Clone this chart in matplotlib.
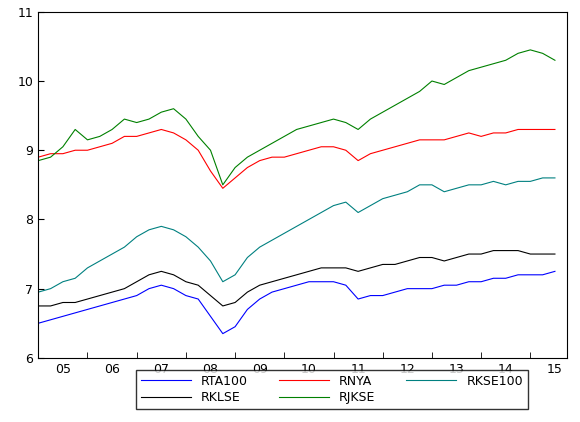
import numpy as np
import matplotlib
matplotlib.use("Agg")
import matplotlib.pyplot as plt

# quarterly readings, 2005Q1 .. 2015Q3
t = [2005 + 0.25 * i for i in range(43)]

rjkse = [8.85, 8.9, 9.05, 9.3, 9.15, 9.2, 9.3, 9.45, 9.4, 9.45, 9.55, 9.6,
         9.45, 9.2, 9.0, 8.5, 8.75, 8.9, 9.0, 9.1, 9.2, 9.3, 9.35, 9.4,
         9.45, 9.4, 9.3, 9.45, 9.55, 9.65, 9.75, 9.85, 10.0, 9.95, 10.05, 10.15,
         10.2, 10.25, 10.3, 10.4, 10.45, 10.4, 10.3]
rnya = [8.9, 8.95, 8.95, 9.0, 9.0, 9.05, 9.1, 9.2, 9.2, 9.25, 9.3, 9.25,
        9.15, 9.0, 8.7, 8.45, 8.6, 8.75, 8.85, 8.9, 8.9, 8.95, 9.0, 9.05,
        9.05, 9.0, 8.85, 8.95, 9.0, 9.05, 9.1, 9.15, 9.15, 9.15, 9.2, 9.25,
        9.2, 9.25, 9.25, 9.3, 9.3, 9.3, 9.3]
rkse100 = [6.95, 7.0, 7.1, 7.15, 7.3, 7.4, 7.5, 7.6, 7.75, 7.85, 7.9, 7.85,
           7.75, 7.6, 7.4, 7.1, 7.2, 7.45, 7.6, 7.7, 7.8, 7.9, 8.0, 8.1,
           8.2, 8.25, 8.1, 8.2, 8.3, 8.35, 8.4, 8.5, 8.5, 8.4, 8.45, 8.5,
           8.5, 8.55, 8.5, 8.55, 8.55, 8.6, 8.6]
rklse = [6.75, 6.75, 6.8, 6.8, 6.85, 6.9, 6.95, 7.0, 7.1, 7.2, 7.25, 7.2,
         7.1, 7.05, 6.9, 6.75, 6.8, 6.95, 7.05, 7.1, 7.15, 7.2, 7.25, 7.3,
         7.3, 7.3, 7.25, 7.3, 7.35, 7.35, 7.4, 7.45, 7.45, 7.4, 7.45, 7.5,
         7.5, 7.55, 7.55, 7.55, 7.5, 7.5, 7.5]
rta100 = [6.5, 6.55, 6.6, 6.65, 6.7, 6.75, 6.8, 6.85, 6.9, 7.0, 7.05, 7.0,
          6.9, 6.85, 6.6, 6.35, 6.45, 6.7, 6.85, 6.95, 7.0, 7.05, 7.1, 7.1,
          7.1, 7.05, 6.85, 6.9, 6.9, 6.95, 7.0, 7.0, 7.0, 7.05, 7.05, 7.1,
          7.1, 7.15, 7.15, 7.2, 7.2, 7.2, 7.25]

year_labels = ["05", "06", "07", "08", "09", "10", "11", "12", "13", "14", "15"]

fig = plt.figure(figsize=(5.8, 4.22), dpi=100)
ax = fig.add_axes([0.066, 0.152, 0.912, 0.82])

h_rta, = ax.plot(t, rta100, color="#0000ff", lw=0.8, label="RTA100")
h_rnya, = ax.plot(t, rnya, color="#ff0000", lw=0.8, label="RNYA")
h_kse, = ax.plot(t, rkse100, color="#008080", lw=0.8, label="RKSE100")
h_klse, = ax.plot(t, rklse, color="#000000", lw=0.8, label="RKLSE")
h_jk, = ax.plot(t, rjkse, color="#008000", lw=0.8, label="RJKSE")

ax.set_xlim(2005, 2015.75)
ax.set_ylim(6, 11)
ax.set_yticks(range(6, 12))
ax.set_xticks([2005.5 + i for i in range(11)])
ax.set_xticklabels(year_labels)
ax.set_xticks(range(2005, 2016), minor=True)
ax.tick_params(axis="x", which="major", length=0)
ax.tick_params(axis="x", which="minor", length=4, direction="in")
ax.tick_params(axis="y", direction="in", length=4)
ax.tick_params(labelsize=9)

fig.legend([h_rta, h_klse, h_rnya, h_jk, h_kse],
           ["RTA100", "RKLSE", "RNYA", "RJKSE", "RKSE100"],
           ncol=3, loc="center", bbox_to_anchor=(0.572, 0.077),
           fontsize=9, frameon=True, fancybox=False, edgecolor="black",
           handlelength=4, columnspacing=2.5, borderpad=0.4, labelspacing=0.3)

fig.savefig("out.png")
